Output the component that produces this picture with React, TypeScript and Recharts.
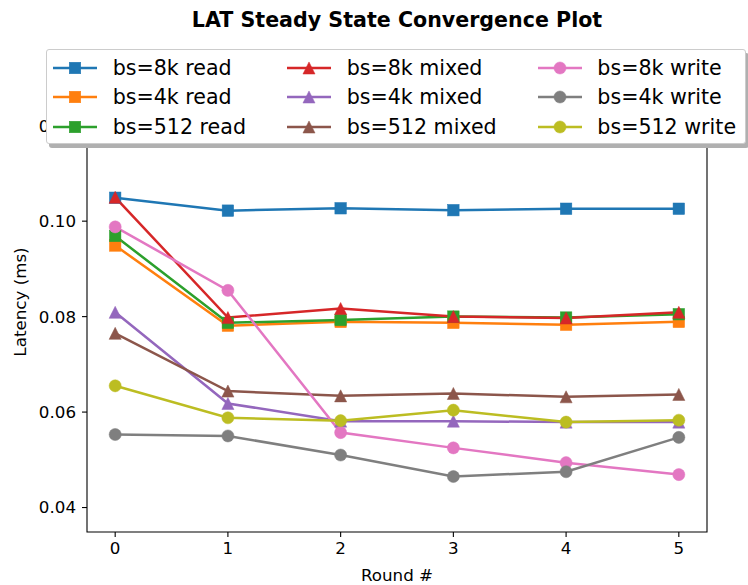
import React from 'react';
import { LineChart, Line, XAxis, YAxis, ReferenceArea, Label } from 'recharts';

const rounds = [0, 1, 2, 3, 4, 5];
const read8k = [0.1049, 0.1022, 0.1027, 0.1023, 0.1026, 0.1026];
const read4k = [0.0949, 0.0781, 0.0789, 0.0787, 0.0783, 0.0789];
const read512 = [0.0969, 0.0787, 0.0793, 0.0800, 0.0798, 0.0805];
const mixed8k = [0.1050, 0.0798, 0.0817, 0.0800, 0.0797, 0.0809];
const mixed4k = [0.0809, 0.0618, 0.0581, 0.0581, 0.0579, 0.0579];
const mixed512 = [0.0765, 0.0644, 0.0634, 0.0639, 0.0632, 0.0637];
const write8k = [0.0988, 0.0855, 0.0557, 0.0525, 0.0494, 0.0469];
const write4k = [0.0553, 0.0550, 0.0510, 0.0465, 0.0475, 0.0547];
const write512 = [0.0655, 0.0588, 0.0582, 0.0604, 0.0579, 0.0583];
const yTicks = [0.04, 0.06, 0.08, 0.10, 0.12];

type Shape = 'square' | 'triangle' | 'circle';
const series: { key: string; name: string; color: string; shape: Shape; values: number[] }[] = [
  { key: 'read8k', name: 'bs=8k read', color: '#1f77b4', shape: 'square', values: read8k },
  { key: 'read4k', name: 'bs=4k read', color: '#ff7f0e', shape: 'square', values: read4k },
  { key: 'read512', name: 'bs=512 read', color: '#2ca02c', shape: 'square', values: read512 },
  { key: 'mixed8k', name: 'bs=8k mixed', color: '#d62728', shape: 'triangle', values: mixed8k },
  { key: 'mixed4k', name: 'bs=4k mixed', color: '#9467bd', shape: 'triangle', values: mixed4k },
  { key: 'mixed512', name: 'bs=512 mixed', color: '#8c564b', shape: 'triangle', values: mixed512 },
  { key: 'write8k', name: 'bs=8k write', color: '#e377c2', shape: 'circle', values: write8k },
  { key: 'write4k', name: 'bs=4k write', color: '#7f7f7f', shape: 'circle', values: write4k },
  { key: 'write512', name: 'bs=512 write', color: '#bcbd22', shape: 'circle', values: write512 },
];

const data = rounds.map((r, i) => {
  const row: Record<string, number> = { round: r };
  series.forEach((s) => { row[s.key] = s.values[i]; });
  return row;
});

const allVals = series.flatMap((s) => s.values);
const yMin = Math.min(...allVals) * 0.75;
const yMax = Math.max(...allVals) * 1.25;

const FONT = '"DejaVu Sans", sans-serif';
const MS = 11.5;
const LW = 2.5;

function Marker({ cx, cy, shape, color }: { cx: number; cy: number; shape: Shape; color: string }) {
  const h = MS / 2;
  if (shape === 'square') return <rect x={cx - h} y={cy - h} width={MS} height={MS} fill={color} stroke={color} strokeWidth={0.5} />;
  if (shape === 'triangle') {
    const hh = h * 1.05;
    return <polygon points={`${cx},${cy - hh} ${cx - hh},${cy + hh} ${cx + hh},${cy + hh}`} fill={color} stroke={color} strokeWidth={0.5} />;
  }
  return <circle cx={cx} cy={cy} r={h + 0.3} fill={color} stroke={color} strokeWidth={0.5} />;
}

function LegendBox() {
  const cols = [series.slice(0, 3), series.slice(3, 6), series.slice(6, 9)];
  return (
    <div style={{
      position: 'absolute', left: 46, top: 49, width: 700, height: 95, boxSizing: 'border-box',
      border: '1px solid #cccccc', borderRadius: 3, background: '#fff',
      boxShadow: '3px 4px 0 #b0b0b0', display: 'flex', padding: '3px 0 0 6px', fontFamily: FONT, fontSize: 20.6,
    }}>
      {cols.map((col, ci) => (
        <div key={ci} style={{ display: 'flex', flexDirection: 'column', marginRight: 41 }}>
          {col.map((s) => (
            <div key={s.key} style={{ display: 'flex', alignItems: 'center', height: 29.6, whiteSpace: 'nowrap' }}>
              <svg width={44} height={20} style={{ marginRight: 15.7, flex: 'none' }}>
                <line x1={0} y1={10} x2={44} y2={10} stroke={s.color} strokeWidth={LW} />
                <Marker cx={22} cy={10} shape={s.shape} color={s.color} />
              </svg>
              <span style={{ color: '#000' }}>{s.name}</span>
            </div>
          ))}
        </div>
      ))}
    </div>
  );
}

export default function App() {
  return (
    <div style={{ position: 'fixed', left: 0, top: 0, width: 748, height: 585, background: '#fff' }}>
      <LineChart width={748} height={585} data={data} margin={{ top: 72, right: 41, bottom: 0, left: 0 }}>
        <ReferenceArea x1={-0.25} x2={5.25} y1={yMin} y2={yMax} fill="none" stroke="#000" strokeWidth={1.1} ifOverflow="visible" />
        <XAxis dataKey="round" type="number" domain={[-0.25, 5.25]} ticks={rounds} allowDataOverflow
          height={53} axisLine={false} tickSize={5} tickMargin={5}
          tickLine={{ stroke: '#000', strokeWidth: 1.1 }}
          tick={{ fill: '#000', fontFamily: FONT, fontSize: 16.7 }}>
          <Label content={({ viewBox }: any) => (
            <text x={viewBox.x + viewBox.width / 2} y={viewBox.y + 49} textAnchor="middle" fontFamily={FONT} fontSize={16.7} fill="#000">Round #</text>
          )} />
        </XAxis>
        <YAxis type="number" domain={[yMin, yMax]} ticks={yTicks} allowDataOverflow width={87}
          axisLine={false} tickSize={5} tickMargin={6}
          tickLine={{ stroke: '#000', strokeWidth: 1.1 }}
          tickFormatter={(v: number) => v.toFixed(2)}
          tick={{ fill: '#000', fontFamily: FONT, fontSize: 16.7 }}>
          <Label content={({ viewBox }: any) => {
            const cx = viewBox.x + 20;
            const cy = viewBox.y + viewBox.height / 2;
            return <text x={cx} y={cy} transform={`rotate(-90 ${cx} ${cy})`} textAnchor="middle" dominantBaseline="central" fontFamily={FONT} fontSize={16.7} fill="#000">Latency (ms)</text>;
          }} />
        </YAxis>
        {series.map((s) => (
          <Line key={s.key} dataKey={s.key} name={s.name} stroke={s.color} strokeWidth={LW}
            isAnimationActive={false} activeDot={false}
            dot={(p: any) => <Marker key={`${s.key}-${p.index}`} cx={p.cx} cy={p.cy} shape={s.shape} color={s.color} />} />
        ))}
      </LineChart>
      <svg width={748} height={40} style={{ position: 'absolute', left: 0, top: 0 }}>
        <text x={397} y={26.7} textAnchor="middle" fontFamily={FONT} fontWeight="bold" fontSize={20.6} fill="#000">LAT Steady State Convergence Plot</text>
      </svg>
      <LegendBox />
    </div>
  );
}
